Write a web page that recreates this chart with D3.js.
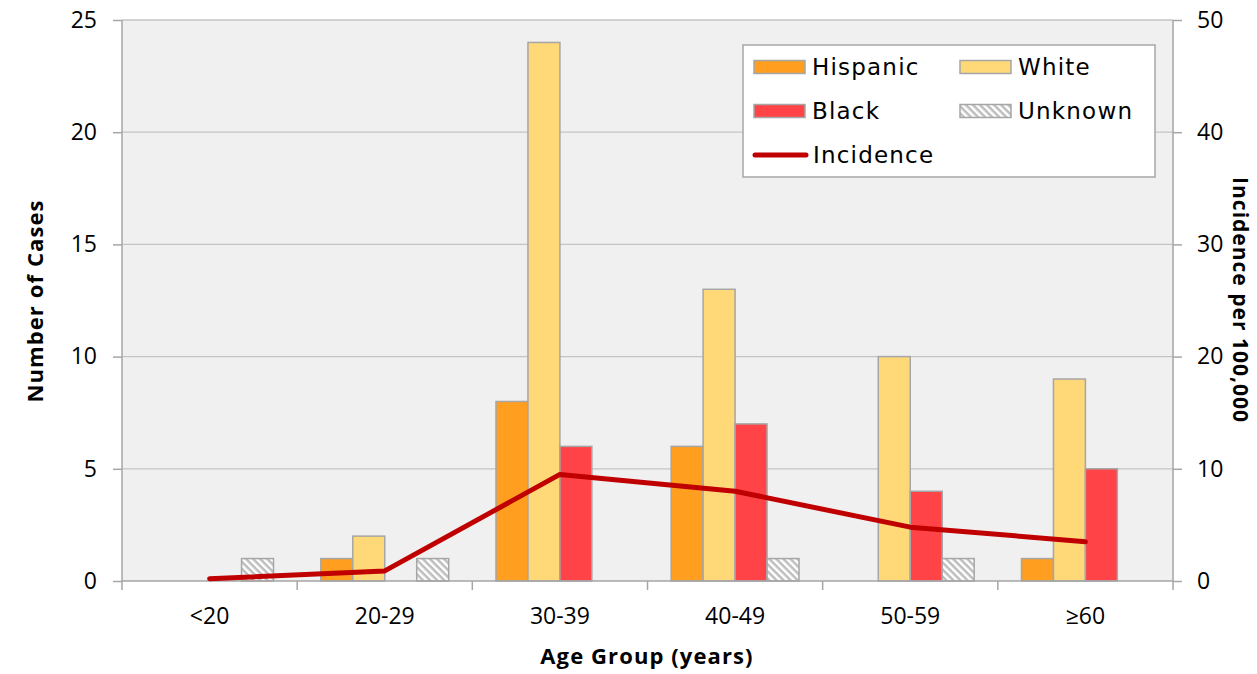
<!DOCTYPE html>
<html><head><meta charset="utf-8">
<script src="https://cdn.jsdelivr.net/npm/d3@7"></script>
<style>body{margin:0;background:#fff}svg{display:block}</style>
</head><body>
<svg id="c" width="1257" height="674"></svg>
<script>
const categories = ["<20","20-29","30-39","40-49","50-59","≥60"];
const seriesNames = ["Hispanic","White","Black","Unknown"];
const hispanic = [0,1,8,6,0,1];
const white = [0,2,24,13,10,9];
const black = [0,0,6,7,4,5];
const unknown = [1,1,0,1,1,0];
const incidence = [0.2,0.9,9.5,8.0,4.8,3.5];
const leftTicks = [0,5,10,15,20,25];
const rightTicks = [0,10,20,30,40,50];

const seriesValues = [hispanic, white, black, unknown];
const colors = ["#FF9E1F","#FFD878","#FF4346","url(#hatch)"];

const svg = d3.select("#c");
const L=122, R=1173, T=20, B=581;
const tickFont = "Open Sans, Lato, sans-serif";
const legendFont = "DejaVu Sans, Verdana, sans-serif";

const defs = svg.append("defs");
const pat = defs.append("pattern").attr("id","hatch").attr("patternUnits","userSpaceOnUse")
  .attr("width",5).attr("height",5).attr("patternTransform","rotate(45)");
pat.append("rect").attr("width",5).attr("height",5).attr("fill","#fff");
pat.append("rect").attr("width",5).attr("height",2.5).attr("fill","#BDBDBD");

svg.append("rect").attr("x",L).attr("y",T).attr("width",R-L).attr("height",B-T).attr("fill","#F0F0F0");

const x = d3.scaleBand().domain(categories).range([L,R]);
const xs = d3.scaleBand().domain(seriesNames).range([0,x.bandwidth()]).paddingOuter(0.74).paddingInner(0);
const y = d3.scaleLinear().domain([0,25]).range([B,T]);
const y2 = d3.scaleLinear().domain([0,50]).range([B,T]);

// gridlines
svg.append("g").selectAll("line").data(leftTicks.filter(d=>d>0)).join("line")
  .attr("x1",L).attr("x2",R).attr("y1",d=>y(d)).attr("y2",d=>y(d))
  .attr("stroke","#C4C4C4").attr("stroke-width",1.3);

// bars
const g = svg.append("g");
seriesNames.forEach((s,si)=>{
  g.selectAll(null).data(categories).join("rect")
    .attr("x",c=>x(c)+xs(s))
    .attr("width",xs.bandwidth())
    .attr("y",(c,i)=>y(seriesValues[si][i]))
    .attr("height",(c,i)=>B-y(seriesValues[si][i]))
    .attr("fill",colors[si])
    .attr("stroke","#A6A6A6").attr("stroke-width",1.5)
    .attr("display",(c,i)=>seriesValues[si][i]>0?null:"none");
});

// axes
const axisColor="#A6A6A6";
const ax = svg.append("g").attr("transform",`translate(${L},0)`).call(d3.axisLeft(y).tickValues(leftTicks).tickSize(9).tickPadding(16));
const ax2 = svg.append("g").attr("transform",`translate(${R},0)`).call(d3.axisRight(y2).tickValues(rightTicks).tickSize(9).tickPadding(15));
const axb = svg.append("g").attr("transform",`translate(0,${B})`).call(d3.axisBottom(x).tickSize(0).tickPadding(27));
svg.append("g").selectAll("line").data(d3.range(categories.length+1)).join("line")
  .attr("x1",i=>L+i*x.step()).attr("x2",i=>L+i*x.step()).attr("y1",B).attr("y2",B+9)
  .attr("stroke",axisColor).attr("stroke-width",1.5);
[ax,ax2,axb].forEach(a=>{
  a.selectAll("path").attr("stroke",axisColor).attr("stroke-width",1.5);
  a.selectAll("line").attr("stroke",axisColor).attr("stroke-width",1.5);
  a.selectAll("text").attr("font-family",tickFont).attr("font-size",23).attr("fill","#000");
});
ax.select("path").attr("d",`M0,${T}V${B}`);
ax2.select("path").attr("d",`M0,${T}V${B}`);
axb.select("path").attr("d",`M${L},0H${R}`);

// line
const line = d3.line().x((d,i)=>x(categories[i])+x.bandwidth()/2).y(d=>y2(d));
svg.append("path").datum(incidence).attr("d",line).attr("fill","none")
  .attr("stroke","#C00000").attr("stroke-width",5).attr("stroke-linecap","round").attr("stroke-linejoin","round");

// titles
const titleSize = 22;
svg.append("text").attr("x",647).attr("y",664).attr("text-anchor","middle")
  .attr("font-family",tickFont).attr("font-weight","bold").attr("font-size",titleSize).attr("letter-spacing",1.1).text("Age Group (years)");
svg.append("text").attr("transform","translate(43,301) rotate(-90)").attr("text-anchor","middle")
  .attr("font-family",tickFont).attr("font-weight","bold").attr("font-size",titleSize).attr("letter-spacing",1.1).text("Number of Cases");
svg.append("text").attr("transform","translate(1233,300) rotate(90)").attr("text-anchor","middle")
  .attr("font-family",tickFont).attr("font-weight","bold").attr("font-size",21).attr("letter-spacing",1).text("Incidence per 100,000");

// legend
const lg = svg.append("g");
lg.append("rect").attr("x",743).attr("y",45).attr("width",412).attr("height",132)
  .attr("fill","#fff").attr("stroke","#A6A6A6").attr("stroke-width",1.5);
const legendItems = [
  {name:"Hispanic",c:colors[0],x:754,y:67},
  {name:"White",c:colors[1],x:960,y:67},
  {name:"Black",c:colors[2],x:754,y:111},
  {name:"Unknown",c:colors[3],x:960,y:111}
];
legendItems.forEach(d=>{
  lg.append("rect").attr("x",d.x).attr("y",d.y-6.5).attr("width",51).attr("height",13)
    .attr("fill",d.c).attr("stroke","#A6A6A6").attr("stroke-width",1.5);
  lg.append("text").attr("x",d.x+58).attr("y",d.y+8)
    .attr("font-family",legendFont).attr("font-size",23).attr("letter-spacing",1.2).text(d.name);
});
lg.append("line").attr("x1",755).attr("x2",806).attr("y1",155).attr("y2",155)
  .attr("stroke","#C00000").attr("stroke-width",5).attr("stroke-linecap","round");
lg.append("text").attr("x",813).attr("y",163)
  .attr("font-family",legendFont).attr("font-size",23).attr("letter-spacing",1.2).text("Incidence");
</script>
</body></html>
